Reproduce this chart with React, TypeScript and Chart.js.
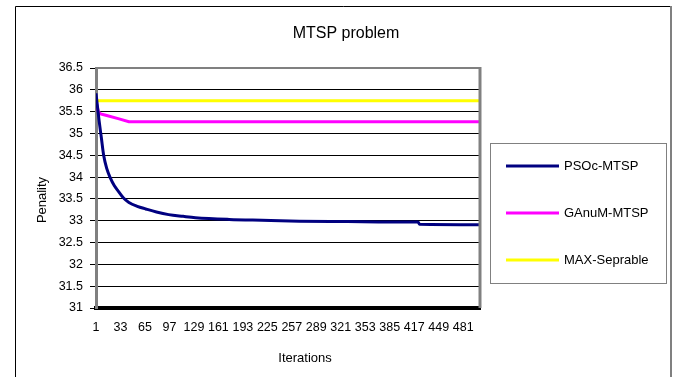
import React, { useEffect, useRef } from "react";
import { Chart, registerables } from "chart.js";

Chart.register(...registerables);

const chartTitle = "MTSP problem";
const xAxisTitle = "Iterations";
const yAxisTitle = "Penality";

// x axis: iteration numbers, labelled every 32 iterations
const iterationTicks = [1, 33, 65, 97, 129, 161, 193, 225, 257, 289, 321, 353, 385, 417, 449, 481];
const iterationMin = 1;
const iterationMax = 503;

// y axis: penalty range
const penaltyMin = 31;
const penaltyMax = 36.5;
const penaltyStep = 0.5;

const seriesNames = ["PSOc-MTSP", "GAnuM-MTSP", "MAX-Seprable"];
const seriesColors = ["#000080", "#FF00FF", "#FFFF00"];

// PSOc-MTSP penalty over iterations
const psoIterations = [1, 3, 5, 8, 11, 15, 20, 25, 30, 37, 44, 55, 66, 80, 96, 115, 131, 175, 218, 267, 330, 385, 422, 424, 503];
const psoPenalty = [35.92, 35.6, 35.3, 34.9, 34.5, 34.2, 33.97, 33.8, 33.68, 33.52, 33.42, 33.33, 33.27, 33.2, 33.14, 33.1, 33.07, 33.03, 33.01, 32.99, 32.98, 32.97, 32.97, 32.92, 32.91];

// GAnuM-MTSP penalty over iterations
const gaIterations = [1, 4, 7, 15, 30, 44, 503];
const gaPenalty = [35.74, 35.5, 35.45, 35.41, 35.34, 35.27, 35.27];

// MAX-Seprable reference level
const maxIterations = [1, 503];
const maxPenalty = [35.75, 35.75];

const FONT = "'Liberation Sans', Arial, sans-serif";

const pairs = (xs: number[], ys: number[]) => xs.map((x, i) => ({ x, y: ys[i] }));

const decorations = {
  id: "decorations",
  beforeDraw(chart: any) {
    const { ctx, width, height } = chart;
    ctx.save();
    ctx.fillStyle = "#ffffff";
    ctx.fillRect(0, 0, width, height);
    ctx.restore();
  },
  afterDatasetsDraw(chart: any) {
    const { ctx, chartArea: a } = chart;
    ctx.save();
    ctx.strokeStyle = "#808080";
    ctx.lineWidth = 2;
    ctx.beginPath();
    ctx.moveTo(a.left, a.top);
    ctx.lineTo(a.right, a.top);
    ctx.stroke();
    ctx.lineWidth = 3;
    ctx.beginPath();
    ctx.moveTo(a.right, a.top - 1);
    ctx.lineTo(a.right, a.bottom);
    ctx.stroke();
    ctx.restore();
  },
  afterDraw(chart: any) {
    const { ctx } = chart;
    ctx.save();
    // outer frame
    ctx.strokeStyle = "#000000";
    ctx.lineWidth = 1;
    ctx.beginPath();
    ctx.moveTo(15.5, 390);
    ctx.lineTo(15.5, 6.5);
    ctx.lineTo(671, 6.5);
    ctx.stroke();
    ctx.strokeStyle = "#808080";
    ctx.lineWidth = 2;
    ctx.beginPath();
    ctx.moveTo(671, 6);
    ctx.lineTo(671, 390);
    ctx.stroke();

    // titles
    ctx.fillStyle = "#000000";
    ctx.textAlign = "center";
    ctx.textBaseline = "middle";
    ctx.font = `16px ${FONT}`;
    ctx.fillText(chartTitle, 346, 34);
    ctx.font = `13px ${FONT}`;
    ctx.fillText(xAxisTitle, 305, 358);
    ctx.save();
    ctx.translate(42, 200);
    ctx.rotate(-Math.PI / 2);
    ctx.fillText(yAxisTitle, 0, 0);
    ctx.restore();

    // legend box
    ctx.strokeStyle = "#808080";
    ctx.lineWidth = 1;
    ctx.strokeRect(490.5, 143.5, 176, 140);
    ctx.textAlign = "left";
    ctx.font = `13px ${FONT}`;
    chart.data.datasets.forEach((ds: any, i: number) => {
      const y = 166 + i * 47;
      ctx.strokeStyle = ds.borderColor;
      ctx.lineWidth = 3;
      ctx.beginPath();
      ctx.moveTo(506, y);
      ctx.lineTo(559, y);
      ctx.stroke();
      ctx.fillStyle = "#000000";
      ctx.fillText(ds.label, 564, y);
    });
    ctx.restore();
  },
};

export default function App() {
  const canvasRef = useRef<HTMLCanvasElement | null>(null);

  useEffect(() => {
    if (!canvasRef.current) return;
    Chart.defaults.font.family = FONT;
    Chart.defaults.color = "#000000";
    const seriesData = [
      pairs(psoIterations, psoPenalty),
      pairs(gaIterations, gaPenalty),
      pairs(maxIterations, maxPenalty),
    ];
    const chart = new Chart(canvasRef.current, {
      type: "line",
      data: {
        datasets: seriesData.map((d, i) => ({
          label: seriesNames[i],
          data: d,
          borderColor: seriesColors[i],
          backgroundColor: seriesColors[i],
          borderWidth: 3,
          pointRadius: 0,
          fill: false,
          cubicInterpolationMode: i === 0 ? "monotone" : "default",
          tension: 0,
        })),
      },
      options: {
        animation: false,
        responsive: true,
        maintainAspectRatio: false,
        layout: { padding: { top: 68, right: 195, bottom: 0, left: 0 } },
        plugins: {
          legend: { display: false },
          title: { display: false },
          tooltip: { enabled: false },
        },
        scales: {
          x: {
            type: "linear",
            min: iterationMin,
            max: iterationMax,
            afterBuildTicks: (scale: any) => {
              scale.ticks = iterationTicks.map((v) => ({ value: v }));
            },
            afterFit: (scale: any) => {
              scale.height = 69;
            },
            grid: { display: false, drawTicks: false },
            border: { display: true, color: "#000000", width: 4 },
            ticks: {
              autoSkip: false,
              maxRotation: 0,
              padding: 12,
              font: { size: 12.5 },
              callback: (v: any) => String(v),
            },
          },
          y: {
            min: penaltyMin,
            max: penaltyMax,
            afterFit: (scale: any) => {
              scale.width = 96;
            },
            grid: { color: "#000000", lineWidth: 1, drawTicks: true, tickLength: 6 },
            border: { display: true, color: "#808080", width: 3 },
            ticks: {
              stepSize: penaltyStep,
              padding: 7,
              font: { size: 12.5 },
              callback: (v: any) => String(Number(v)),
            },
          },
        },
      },
      plugins: [decorations],
    } as any);
    return () => chart.destroy();
  }, []);

  return (
    <div style={{ position: "absolute", left: 0, top: 0, width: 675, height: 377 }}>
      <canvas ref={canvasRef} />
    </div>
  );
}
